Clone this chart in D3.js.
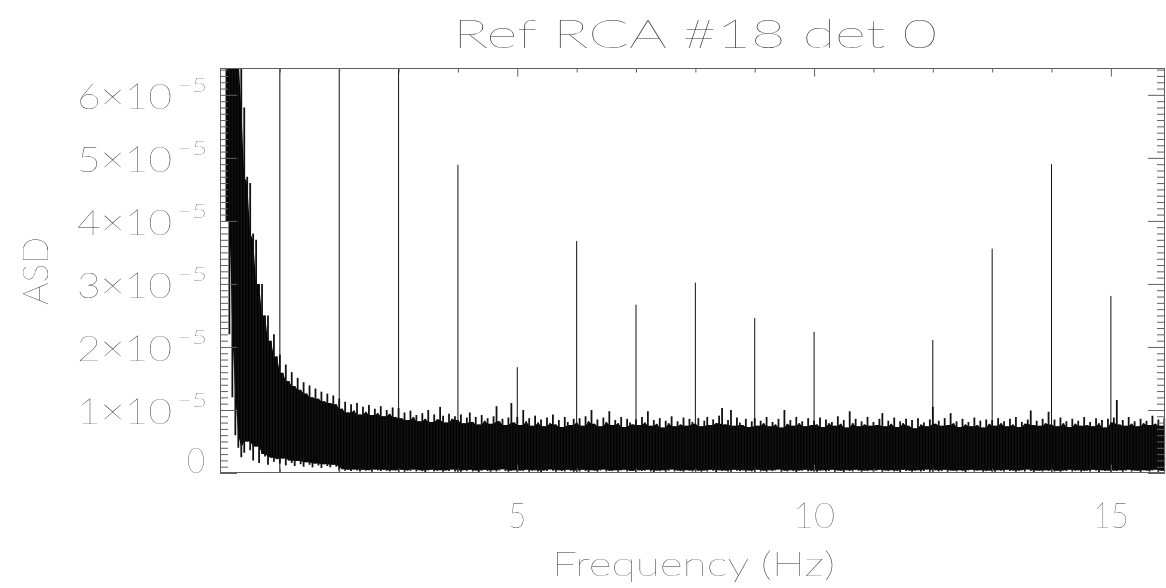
<!DOCTYPE html>
<html><head><meta charset="utf-8">
<script src="https://cdn.jsdelivr.net/npm/d3@7"></script>
<style>html,body{margin:0;background:#fff}svg{display:block}</style>
</head><body><svg id="c" width="1166" height="588"></svg>
<script>
// ---------------- data ----------------
const chartTitle = "Ref RCA #18 det 0";
const xTitle = "Frequency (Hz)";
const yTitle = "ASD";

// noise spectrum, read per 0.05 Hz bin (first bin at 0.10 Hz); values in units of 1e-6
const binStartHz = 0.10;
const binStepHz = 0.05;
const noiseTop = [
  130,112,104,86,80,66,58,47,46,38,37,30,30,25,25,21,22,18.5,
  18.8,15.9,17.2,14.6,16.0,13.8,15.1,13.2,14.4,12.6,13.9,12.0,13.4,11.8,12.9,11.4,12.6,11.1,12.3,10.9,
  11.8,10.2,11.3,9.6,10.9,9.9,11.1,9.3,10.5,9.7,10.8,9.2,10.2,9.5,10.6,9.0,10.0,9.4,10.4,8.9,
  10.3,8.7,9.6,8.4,9.9,8.9,9.2,8.2,9.5,8.6,10.0,8.1,9.3,8.5,10.5,9.1,8.0,9.4,8.6,9.0,
  8.4,9.3,7.9,8.8,9.6,8.1,8.9,7.7,9.2,8.3,8.7,7.8,9.0,10.6,8.2,8.6,7.6,8.8,11.1,8.0,
  8.9,7.6,10.0,8.2,8.7,7.5,9.1,8.0,8.5,7.4,8.8,7.9,9.3,7.7,8.4,7.3,8.9,8.1,7.6,8.6,
  8.0,8.7,7.5,9.0,8.2,10.0,7.8,8.5,7.4,8.8,8.1,9.8,7.6,8.4,7.9,8.9,7.3,8.6,8.0,7.7,
  8.5,7.6,8.9,8.0,9.8,7.5,8.4,7.8,8.7,7.2,8.3,7.9,9.0,7.4,8.2,7.7,8.8,7.5,8.6,8.1,
  7.8,8.7,7.4,8.3,8.9,7.6,8.5,7.9,9.1,10.3,7.7,8.4,10.0,7.5,8.8,8.0,7.6,8.6,7.3,8.2,
  8.7,7.5,8.3,7.9,8.9,7.4,8.1,7.7,8.6,7.2,10.0,7.8,8.4,7.5,8.9,7.9,8.2,7.4,8.7,7.6,
  8.3,7.7,8.8,7.3,8.5,7.9,8.1,7.5,9.0,7.8,8.4,7.2,9.8,7.9,8.6,7.4,8.2,7.7,8.9,7.5,
  8.1,7.6,8.6,9.5,7.4,8.3,7.8,8.8,7.3,8.2,7.9,8.6,7.5,8.4,7.1,8.7,7.7,8.0,7.4,8.5,
  10.5,7.8,8.3,7.5,8.7,7.6,9.5,7.9,8.2,7.3,8.6,7.7,8.1,7.4,8.8,7.6,8.3,7.2,8.5,7.8,
  8.4,7.5,8.7,7.9,8.2,7.4,8.6,7.7,8.9,7.3,8.1,7.8,8.5,9.9,7.6,8.3,7.5,8.6,7.9,9.7,
  7.7,8.5,7.4,8.8,7.9,8.2,7.3,8.6,7.8,8.3,7.5,8.9,7.6,8.1,7.4,8.7,7.9,8.4,7.2,8.6,
  8.0,8.8,11.6,7.7,8.4,7.5,8.9,7.8,8.2,7.4,8.6,7.9,8.3,7.6,9.1,7.8,8.5,7.5,8.7
];
const noiseBottom = [
  40,22,12,6,4,2.5,3.2,5,3.6,2,4.2,1.6,3,2.6,1.3,2.4,1.8,2.2,
  1.5,2.3,1.2,2.0,1.6,1.1,1.9,1.4,1.0,1.7,1.3,0.9,1.5,1.2,0.8,1.4,1.1,0.9,1.3,1.0,
  0.45,0.6,0.35,0.5,0.3,0.55,0.4,0.25,0.5,0.35,0.45,0.2,0.55,0.4,0.3,0.5,0.35,0.25,0.45,0.4,
  0.3,0.5,0.2,0.4,0.35,0.55,0.25,0.45,0.3,0.15,0.4,0.5,0.25,0.35,0.45,0.2,0.4,0.3,0.55,0.25,
  0.35,0.2,0.45,0.3,0.5,0.25,0.4,0.15,0.35,0.5,0.3,0.2,0.45,0.25,0.4,0.6,0.3,0.2,0.35,0.45,
  0.25,0.4,0.3,0.5,0.2,0.35,0.45,0.25,0.15,0.4,0.3,0.55,0.35,0.2,0.45,0.3,0.25,0.5,0.35,0.2,
  0.4,0.25,0.5,0.3,0.15,0.45,0.35,0.2,0.4,0.55,0.25,0.35,0.3,0.45,0.2,0.4,0.5,0.25,0.3,0.35,
  0.2,0.45,0.3,0.35,0.5,0.25,0.15,0.4,0.3,0.45,0.2,0.35,0.55,0.25,0.4,0.3,0.2,0.45,0.35,0.25,
  0.45,0.3,0.2,0.4,0.25,0.5,0.35,0.15,0.45,0.3,0.4,0.25,0.2,0.5,0.35,0.3,0.45,0.2,0.4,0.25,
  0.3,0.5,0.25,0.35,0.2,0.45,0.3,0.4,0.55,0.2,0.35,0.25,0.45,0.3,0.15,0.4,0.35,0.5,0.25,0.3,
  0.4,0.2,0.35,0.45,0.25,0.3,0.5,0.2,0.4,0.35,0.15,0.45,0.3,0.25,0.5,0.35,0.2,0.4,0.3,0.45,
  0.25,0.35,0.5,0.2,0.4,0.3,0.45,0.25,0.35,0.15,0.5,0.3,0.4,0.2,0.35,0.45,0.25,0.3,0.55,0.2,
  0.35,0.45,0.25,0.3,0.5,0.2,0.4,0.35,0.25,0.45,0.3,0.15,0.4,0.5,0.25,0.35,0.45,0.2,0.3,0.4,
  0.3,0.2,0.45,0.35,0.25,0.5,0.3,0.4,0.2,0.35,0.45,0.25,0.55,0.3,0.15,0.4,0.35,0.25,0.45,0.3,
  0.45,0.25,0.35,0.2,0.4,0.3,0.5,0.25,0.35,0.45,0.2,0.3,0.4,0.25,0.5,0.35,0.15,0.45,0.3,0.4,
  0.25,0.4,0.3,0.45,0.2,0.35,0.5,0.25,0.4,0.3,0.15,0.45,0.35,0.25,0.4,0.5,0.2,0.35,0.3
];

// narrow spectral lines (Hz) and their peak ASD, units of 1e-5
const lineFreqs = [1, 2, 3, 4, 5, 6, 7, 8, 9, 10, 12, 13, 14, 15];
const lineAsd   = [9.0, 8.0, 7.0, 4.89, 1.68, 3.68, 2.67, 3.02, 2.46, 2.24, 2.11, 3.56, 4.90, 2.81];

// axes
const xDomain = [0, 15.92];
const yDomain = [0, 6.41e-5];
const xMajorTicks = [5, 10, 15];
const xMinorTicks = [1,2,3,4,6,7,8,9,11,12,13,14];
const yMajorMantissa = [0, 1, 2, 3, 4, 5, 6];
const yExponent = -5;

// ---------------- layout ----------------
const L = 220.5, R = 1165.5, T = 69, B = 473;
const FONT = "Lato, 'DejaVu Sans', sans-serif";
const TXT = "#2a2a2a";
const AX = "#606060";

const svg = d3.select("#c");
const x = d3.scaleLinear(xDomain, [L, R]);
const y = d3.scaleLinear(yDomain, [B, T]);

svg.append("defs").append("clipPath").attr("id","plot")
  .append("rect").attr("x", L).attr("y", T).attr("width", R - L).attr("height", B - T);

const n = Math.min(noiseTop.length, noiseBottom.length);
const spectrum = d3.range(n).map(i => ({
  f: binStartHz + i * binStepHz,
  hi: noiseTop[i] * 1e-6,
  lo: noiseBottom[i] * 1e-6
}));
// solid core of the noise band: the part covered by neighbouring bins too
spectrum.forEach((d, i) => {
  const a = spectrum[Math.max(0, i - 1)], b = spectrum[Math.min(n - 1, i + 1)];
  d.coreHi = Math.min(a.hi, d.hi, b.hi);
  d.coreLo = Math.max(a.lo, d.lo, b.lo);
});

const plot = svg.append("g").attr("clip-path", "url(#plot)");

plot.append("path")
  .datum(spectrum)
  .attr("fill", "#000")
  .attr("d", d3.area().x(d => x(d.f)).y0(d => y(d.coreLo)).y1(d => y(d.coreHi)));

// individual bin extremes as hairlines (fringe above and below the core)
plot.selectAll("line.bin")
  .data(spectrum)
  .join("line")
  .attr("class", "bin")
  .attr("x1", d => x(d.f)).attr("x2", d => x(d.f))
  .attr("y1", d => y(d.lo)).attr("y2", d => y(d.hi))
  .attr("stroke", "#111").attr("stroke-width", 1.8);

plot.selectAll("line.spike")
  .data(lineFreqs.map((f, i) => ({ f, v: lineAsd[i] * 1e-5 })))
  .join("line")
  .attr("class", "spike")
  .attr("x1", d => x(d.f)).attr("x2", d => x(d.f))
  .attr("y1", y(0)).attr("y2", d => y(d.v))
  .attr("stroke", "#111").attr("stroke-width", 1);

// ---------------- axes ----------------
function styleAxis(g) {
  g.select(".domain").remove();
  g.selectAll(".tick line").attr("stroke", AX).attr("stroke-width", 1);
  g.selectAll(".tick text").remove();
}
const yMajor = yMajorMantissa.map(m => m * Math.pow(10, yExponent));
const yMinor = d3.range(0, 65).filter(k => k % 10 !== 0).map(k => k * 1e-6).filter(v => v <= yDomain[1]);

svg.append("g").attr("transform", `translate(${L - 0.5},0)`)
  .call(d3.axisLeft(y).tickValues(yMajor).tickSize(-17).tickFormat("")).call(styleAxis);
svg.append("g").attr("transform", `translate(${L - 0.5},0)`)
  .call(d3.axisLeft(y).tickValues(yMinor).tickSize(-8).tickFormat("")).call(styleAxis);
svg.append("g").attr("transform", `translate(${R - 0.5},0)`)
  .call(d3.axisRight(y).tickValues(yMajor).tickSize(-17).tickFormat("")).call(styleAxis);
svg.append("g").attr("transform", `translate(${R - 0.5},0)`)
  .call(d3.axisRight(y).tickValues(yMinor).tickSize(-8).tickFormat("")).call(styleAxis);

svg.append("g").attr("transform", `translate(0,${B - 0.5})`)
  .call(d3.axisBottom(x).tickValues(xMajorTicks).tickSize(-8).tickFormat("")).call(styleAxis);
svg.append("g").attr("transform", `translate(0,${B - 0.5})`)
  .call(d3.axisBottom(x).tickValues(xMinorTicks).tickSize(-4).tickFormat("")).call(styleAxis);
svg.append("g").attr("transform", `translate(0,${T - 0.5})`)
  .call(d3.axisTop(x).tickValues(xMajorTicks).tickSize(-8).tickFormat("")).call(styleAxis);
svg.append("g").attr("transform", `translate(0,${T - 0.5})`)
  .call(d3.axisTop(x).tickValues(xMinorTicks).tickSize(-4).tickFormat("")).call(styleAxis);

// frame
svg.append("rect").attr("x", L).attr("y", T - 0.5).attr("width", R - L - 1).attr("height", B - T)
  .attr("fill", "none").attr("stroke", AX).attr("stroke-width", 1);

// ---------------- text ----------------
const labels = svg.append("g").attr("opacity", 0.995);
const txt = (sel) => sel.attr("font-family", FONT).attr("font-weight", 200).attr("fill", TXT);

// y tick labels
yMajorMantissa.forEach((m, i) => {
  const ty = y(yMajor[i]);
  if (m === 0) {
    labels.append("text").call(txt).attr("x", 187).attr("y", ty)
      .attr("font-size", 36).attr("textLength", 18).attr("lengthAdjust", "spacingAndGlyphs").text("0");
  } else {
    labels.append("text").call(txt).attr("x", 77).attr("y", ty + 14.5)
      .attr("font-size", 36).attr("textLength", 95).attr("lengthAdjust", "spacingAndGlyphs")
      .text(m + "\u00d710");
    labels.append("text").call(txt).attr("x", 177).attr("y", ty - 2.5)
      .attr("font-size", 20).attr("textLength", 30).attr("lengthAdjust", "spacingAndGlyphs")
      .text("\u2212" + Math.abs(yExponent));
  }
});

// x tick labels
const xLabW = {5: 18, 10: 42, 15: 36};
xMajorTicks.forEach(v => {
  labels.append("text").call(txt).attr("x", x(v) - xLabW[v] / 2).attr("y", 528)
    .attr("font-size", 36).attr("textLength", xLabW[v]).attr("lengthAdjust", "spacingAndGlyphs")
    .text(String(v));
});

// axis titles
labels.append("text").call(txt).attr("x", 552).attr("y", 576)
  .attr("font-size", 34).attr("textLength", 283).attr("lengthAdjust", "spacingAndGlyphs")
  .text(xTitle);
labels.append("text").call(txt)
  .attr("transform", "translate(48,305) rotate(-90)")
  .attr("font-size", 36).attr("textLength", 68).attr("lengthAdjust", "spacingAndGlyphs")
  .text(yTitle);
labels.append("text").call(txt).attr("x", 453).attr("y", 48)
  .attr("font-size", 40).attr("textLength", 484).attr("lengthAdjust", "spacingAndGlyphs")
  .text(chartTitle);
</script>
</body></html>
